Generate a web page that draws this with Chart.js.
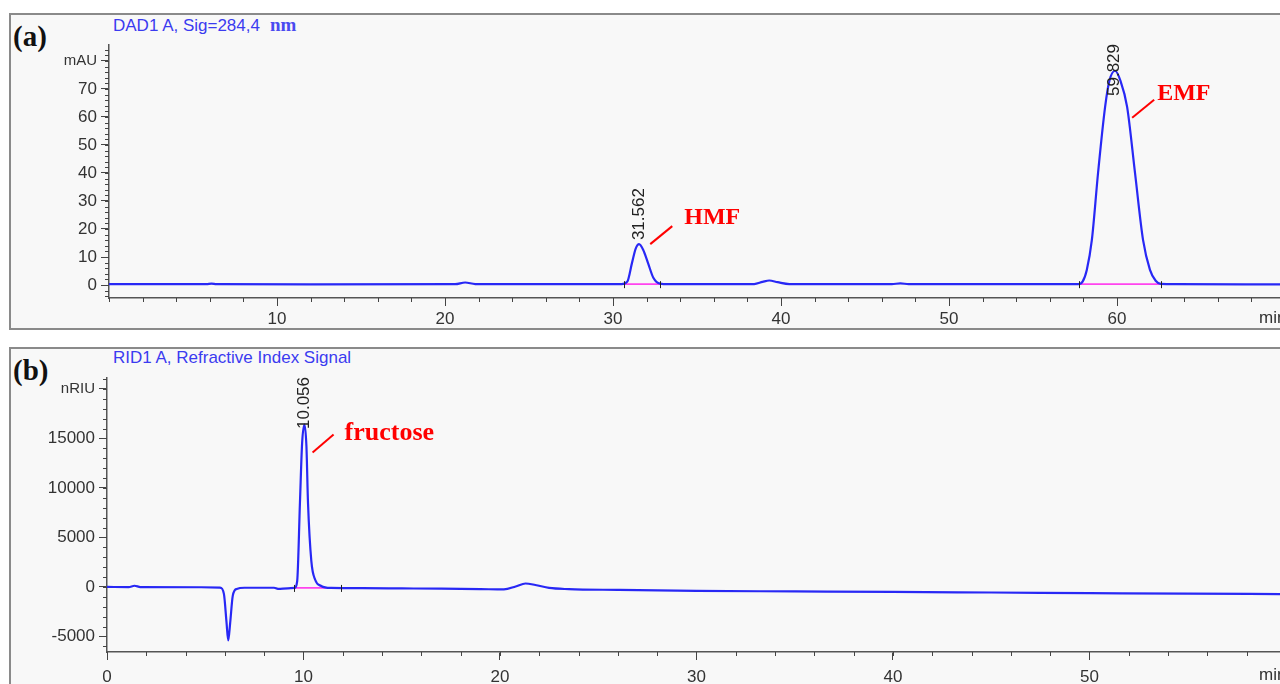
<!DOCTYPE html>
<html>
<head>
<meta charset="utf-8">
<script src="https://cdn.jsdelivr.net/npm/chart.js@4.4.0/dist/chart.umd.min.js"></script>
<style>
  body { margin: 0; width: 1280px; height: 684px; overflow: hidden; position: relative; background: #fff; }
  .panel { position: absolute; left: 9px; width: 1300px; box-sizing: border-box; border: 2px solid #8a8a8a; border-right: none; background: #f8f8f8; }
  canvas { position: absolute; left: 11px; }
  .tag { position: absolute; font: bold 29px "Liberation Serif", "Times New Roman", serif; color: #111; }
  .sig { position: absolute; left: 113px; font: 17px "Liberation Sans", Arial, sans-serif; color: #3b3bf0; }
  .nm { font: bold 19px "Liberation Serif", "Times New Roman", serif; color: #4a4af0; margin-left: 10px; }
</style>
</head>
<body>
<div class="panel" style="top:13px;height:317px"></div>
<div class="panel" style="top:347px;height:345px"></div>

<div class="tag" style="left:13px;top:20px">(a)</div>
<div class="sig" style="top:14px">DAD1 A, Sig=284,4<span class="nm">nm</span></div>
<div class="tag" style="left:13px;top:354px">(b)</div>
<div class="sig" style="top:348px">RID1 A, Refractive Index Signal</div>

<canvas id="dad" width="1269" height="313" style="top:15px"></canvas>
<canvas id="rid" width="1269" height="335" style="top:349px"></canvas>

<script>
// (a) DAD signal, mAU vs min
const dadTime = [0, 3, 5.8, 6.1, 6.4, 12, 20.6, 21.2, 21.8, 26, 30.5, 30.85, 31.13, 31.35, 31.55, 31.8, 32.08, 32.4, 32.8, 33.3,
  38.4, 38.9, 39.3, 39.8, 40.5, 46.6, 47.1, 47.6, 57.7, 57.95, 58.2, 58.5, 58.87, 59.29, 59.55, 59.88, 60.2, 60.6,
  61.07, 61.55, 61.96, 62.3, 62.6, 63.5, 69.7]
const dadSignal = [0.3, 0.3, 0.3, 0.5, 0.3, 0.25, 0.3, 0.9, 0.35, 0.3, 0.3, 1.2, 7.9, 13, 14.6, 12.5, 7.9, 2.6, 0.5, 0.3,
  0.35, 1.1, 1.6, 1.0, 0.35, 0.3, 0.6, 0.3, 0.3, 1.2, 5.4, 16, 40, 63.6, 73, 76.5, 73, 63.6,
  40, 16, 5.4, 1.5, 0.4, 0.3, 0.2]
const dadBaseStart = [30.65, 57.75]
const dadBaseEnd = [32.8, 62.6]
const dadBaseLevel = 0.3
const dadPeakTimes = [31.562, 59.829]
const dadPeakHeights = [14.6, 76.5]
const dadPeakNames = ['HMF', 'EMF']
const dadXTicks = [10, 20, 30, 40, 50, 60]
const dadYTicks = [0, 10, 20, 30, 40, 50, 60, 70]

// (b) RID signal, nRIU vs min
const ridTime = [0, 1.1, 1.4, 1.7, 4.8, 5.75, 5.95, 6.08, 6.17, 6.27, 6.4, 6.6, 7, 8.5, 8.7, 9.2, 9.55, 9.68, 9.82, 9.93,
  10.05, 10.15, 10.23, 10.4, 10.6, 10.9, 11.4, 13, 15, 17, 19, 20.2, 20.8, 21.3, 21.8, 22.5, 23.5, 26, 30, 35, 40, 45, 50, 55, 59.7]
const ridSignal = [0, -20, 120, -10, -30, -60, -700, -3500, -5400, -3600, -900, -200, -80, -80, -200, -150, -100, 600, 8500, 14500,
  16400, 14200, 8500, 2600, 700, 100, -100, -120, -150, -180, -220, -250, 50, 350, 200, -100, -220, -300, -400, -450, -500, -560, -620, -680, -720]
const ridBaseStart = [9.5]
const ridBaseEnd = [11.9]
const ridBaseLevel = -100
const ridPeakTimes = [10.056]
const ridPeakHeights = [16400]
const ridPeakNames = ['fructose']
const ridXTicks = [0, 10, 20, 30, 40, 50]
const ridYTicks = [-5000, 0, 5000, 10000, 15000]

Chart.defaults.font.family = '"Liberation Sans", Arial, sans-serif'

function series(t, v) {
  return t.map((x, i) => ({ x: x, y: v[i] }))
}

function baselines(starts, ends, level) {
  const pts = []
  starts.forEach((s, i) => {
    pts.push({ x: s, y: level }, { x: ends[i], y: level }, { x: ends[i], y: null })
  })
  return pts
}

// small ticks between the labelled ones, plus the integration marks
const minorTicks = {
  id: 'minorTicks',
  afterDraw(chart, args, opts) {
    const { ctx, chartArea: a, scales: { x, y } } = chart
    ctx.save()
    ctx.strokeStyle = '#444'
    ctx.lineWidth = 1
    for (let i = Math.ceil(x.min / opts.x); i * opts.x <= x.max; i++) {
      const px = Math.round(x.getPixelForValue(i * opts.x)) + 0.5
      ctx.beginPath(); ctx.moveTo(px, a.bottom); ctx.lineTo(px, a.bottom + 4); ctx.stroke()
    }
    for (let i = Math.ceil(y.min / opts.y); i * opts.y <= y.max; i++) {
      const py = Math.round(y.getPixelForValue(i * opts.y)) + 0.5
      ctx.beginPath(); ctx.moveTo(a.left, py); ctx.lineTo(a.left - 4, py); ctx.stroke()
    }
    ctx.strokeStyle = '#222'
    opts.marks.forEach(t => {
      const px = Math.round(x.getPixelForValue(t)) + 0.5
      const py = y.getPixelForValue(opts.level)
      ctx.beginPath(); ctx.moveTo(px, py - 3); ctx.lineTo(px, py + 4); ctx.stroke()
    })
    ctx.fillStyle = '#333'
    ctx.font = '17px "Liberation Sans", Arial, sans-serif'
    ctx.textBaseline = 'middle'
    ctx.fillText('min', a.right - 21, a.bottom + opts.unitDy)
    ctx.restore()
  }
}

const peakNotes = {
  id: 'peakNotes',
  afterDraw(chart, args, opts) {
    const { ctx, chartArea: a, scales: { x, y } } = chart
    opts.times.forEach((t, i) => {
      const px = x.getPixelForValue(t)
      const py = y.getPixelForValue(opts.heights[i])
      const o = opts.offsets[i]
      ctx.save()
      // retention time, written upward
      ctx.translate(px, Math.max(py - 4, a.top + 51))
      ctx.rotate(-Math.PI / 2)
      ctx.font = '17px "Liberation Sans", Arial, sans-serif'
      ctx.fillStyle = '#222'
      ctx.textBaseline = 'middle'
      ctx.fillText(t.toFixed(3), 0, 0)
      ctx.restore()

      ctx.save()
      ctx.strokeStyle = '#ff0000'
      ctx.lineWidth = 2
      ctx.beginPath()
      ctx.moveTo(px + o[0], py + o[1])
      ctx.lineTo(px + o[2], py + o[3])
      ctx.stroke()
      ctx.fillStyle = '#ff0000'
      ctx.font = 'bold ' + opts.nameSize + 'px "Liberation Serif", "Times New Roman", serif'
      ctx.fillText(opts.names[i], px + o[4], py + o[5])
      ctx.restore()
    })
  }
}

function generateChart(id, cfg) {
  const ctx = document.getElementById(id)
  new Chart(ctx, {
    type: 'line',
    data: {
      datasets: [{
        data: series(cfg.time, cfg.signal),
        borderColor: 'rgb(40,40,245)',
        borderWidth: 2.2,
        cubicInterpolationMode: 'monotone',
      }, {
        data: baselines(cfg.baseStart, cfg.baseEnd, cfg.baseLevel),
        borderColor: '#ff44ee',
        borderWidth: 1.8,
        spanGaps: false,
      }]
    },
    options: {
      responsive: false,
      animation: false,
      layout: { padding: { top: cfg.padTop, right: 0, left: 0, bottom: 0 } },
      elements: { point: { radius: 0 } },
      scales: {
        x: {
          type: 'linear',
          min: 0,
          max: cfg.xMax,
          afterBuildTicks: s => { s.ticks = cfg.xTicks.map(v => ({ value: v })) },
          afterFit: s => { s.height = cfg.axisHeight },
          ticks: { color: '#333', padding: cfg.xPad, font: { size: 17 }, callback: v => String(v), maxRotation: 0 },
          grid: { drawOnChartArea: false, tickLength: 8, color: '#444' },
          border: { color: '#555', width: 1.5 }
        },
        y: {
          type: 'linear',
          min: cfg.yMin,
          max: cfg.yMax,
          afterBuildTicks: s => { s.ticks = cfg.yTicks.concat([cfg.unitAt]).map(v => ({ value: v })) },
          afterFit: s => { s.width = cfg.axisWidth },
          ticks: {
            color: '#333',
            padding: 4,
            font: c => ({ size: c.tick && c.tick.value === cfg.unitAt ? 15 : 17 }),
            callback: v => v === cfg.unitAt ? cfg.unit : String(v)
          },
          grid: { drawOnChartArea: false, tickLength: 8, color: '#444' },
          border: { color: '#555', width: 1.5 }
        }
      },
      plugins: {
        legend: false,
        tooltip: { enabled: false },
        minorTicks: {
          x: 2, y: cfg.yMinor, unitDy: cfg.unitDy, level: cfg.baseLevel,
          marks: cfg.baseStart.concat(cfg.baseEnd)
        },
        peakNotes: {
          times: cfg.peakTimes, heights: cfg.peakHeights, names: cfg.peakNames,
          offsets: cfg.noteOffsets, nameSize: cfg.nameSize
        }
      }
    },
    plugins: [minorTicks, peakNotes]
  })
}

generateChart('dad', {
  time: dadTime, signal: dadSignal,
  baseStart: dadBaseStart, baseEnd: dadBaseEnd, baseLevel: dadBaseLevel,
  peakTimes: dadPeakTimes, peakHeights: dadPeakHeights, peakNames: dadPeakNames,
  xTicks: dadXTicks, yTicks: dadYTicks, unit: 'mAU', unitAt: 80,
  xMax: 69.7, yMin: -4.64, yMax: 85.7, yMinor: 2,
  padTop: 30, axisWidth: 98, axisHeight: 30, xPad: 3, unitDy: 20,
  noteOffsets: [[11, 0, 33, -18, 45, -20], [18, 47, 40, 29, 43, 29]], nameSize: 24
})

generateChart('rid', {
  time: ridTime, signal: ridSignal,
  baseStart: ridBaseStart, baseEnd: ridBaseEnd, baseLevel: ridBaseLevel,
  peakTimes: ridPeakTimes, peakHeights: ridPeakHeights, peakNames: ridPeakNames,
  xTicks: ridXTicks, yTicks: ridYTicks, unit: 'nRIU', unitAt: 20000,
  xMax: 59.7, yMin: -6570, yMax: 21100, yMinor: 1000,
  padTop: 29, axisWidth: 96, axisHeight: 32, xPad: 7, unitDy: 23,
  noteOffsets: [[8, 28, 29, 10, 40, 15]], nameSize: 26
})
</script>
</body>
</html>
